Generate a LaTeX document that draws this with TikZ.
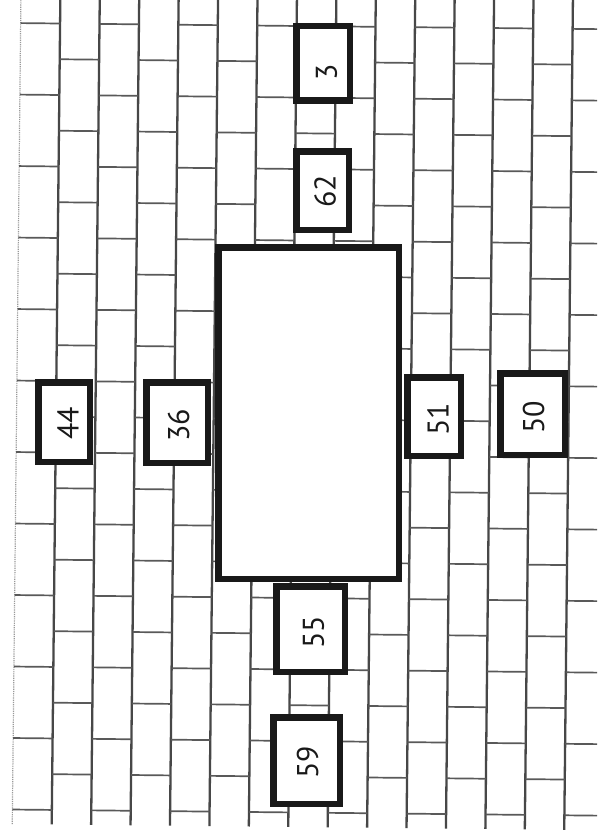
\documentclass[tikz,border=0pt]{standalone}
\usepackage{fontspec}
\setmainfont{PT Sans}
\begin{document}
\begin{tikzpicture}[x=1pt,y=-1pt,
  mortar/.style={draw=black!65, line width=1.7pt},
  joint/.style={draw=black!72, line width=2.3pt},
  walledge/.style={draw=black!40, line width=1.2pt, densely dotted},
  box/.style={draw=black!90, line width=6.5pt, fill=white, inner sep=0pt, rectangle},
  num/.style={rotate=90, font=\fontsize{30}{30}\selectfont, inner sep=0pt, text=black!90}]
\useasboundingbox (0,0) rectangle (597,840);
\fill[white] (0,0) rectangle (597,840);
\begin{scope}
\clip (0,0) rectangle (597,840);
\begin{scope}[rotate around={-0.6:(298,420)}]
  \draw[walledge] (16.5,-8) -- (16.5,827);
  \foreach \i in {1,...,14} {
    \draw[joint] ({16.5+39.43*\i},-8) -- ({16.5+39.43*\i},827);
  }
  \foreach \c in {1,3,...,15} {
    \foreach \k in {0,...,11} {
      \draw[mortar] ({16.5+39.43*(\c-1)},{26+71.5*\k}) -- ({16.5+39.43*\c},{26+71.5*\k});
    }
  }
  \foreach \c in {2,4,...,14} {
    \foreach \k in {0,...,10} {
      \draw[mortar] ({16.5+39.43*(\c-1)},{61.75+71.5*\k}) -- ({16.5+39.43*\c},{61.75+71.5*\k});
    }
  }
\end{scope}
\end{scope}
% boxes
\node[box, minimum width=180.5pt, minimum height=331.5pt] (table) at (308.5,413) {};
\node[box, minimum width=53.5pt, minimum height=74.5pt] (b3) at (323,63.5) {};
\node[box, minimum width=52.5pt, minimum height=78.5pt] (b62) at (322.5,190.5) {};
\node[box, minimum width=51.5pt, minimum height=79.5pt] (b44) at (64,422) {};
\node[box, minimum width=61.5pt, minimum height=80.5pt] (b36) at (177,422.5) {};
\node[box, minimum width=53.5pt, minimum height=78.5pt] (b51) at (434,416.5) {};
\node[box, minimum width=64.5pt, minimum height=81.5pt] (b50) at (532.5,414) {};
\node[box, minimum width=68.5pt, minimum height=85.5pt] (b55) at (310.5,629) {};
\node[box, minimum width=66.5pt, minimum height=86.5pt] (b59) at (306.5,760.5) {};
% labels
\node[num] (t3) at (326.5,72.5) {3};
\node[num] (t62) at (325,191) {62};
\node[num] (t44) at (68,423) {44};
\node[num] (t36) at (178.5,425) {36};
\node[num] (t51) at (438,419.5) {51};
\node[num] (t50) at (533.5,417) {50};
\node[num] (t55) at (313.5,632.5) {55};
\node[num] (t59) at (307.5,762.5) {59};
\end{tikzpicture}
\end{document}
